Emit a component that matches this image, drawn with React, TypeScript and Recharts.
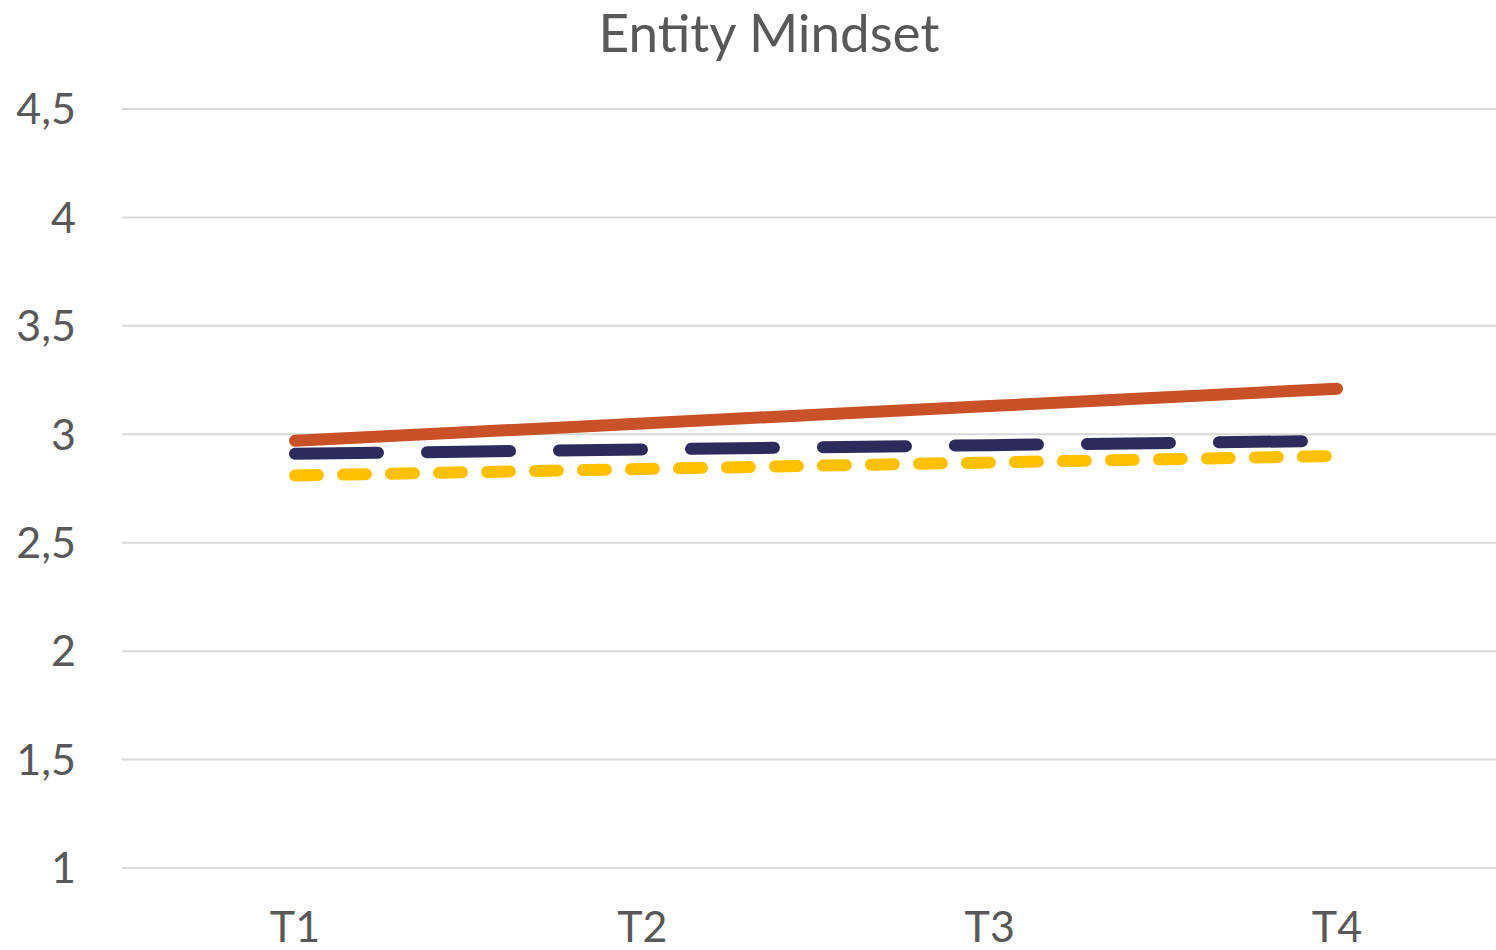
import { LineChart, Line, XAxis, YAxis, CartesianGrid } from 'recharts'

const categories = ['T1', 'T2', 'T3', 'T4']
const seriesA = [2.97, 3.05, 3.13, 3.21]
const seriesB = [2.91, 2.93, 2.95, 2.97]
const seriesC = [2.81, 2.84, 2.87, 2.90]
const yTicks = [1, 1.5, 2, 2.5, 3, 3.5, 4, 4.5]

const FONT = 'Lato, "Open Sans", sans-serif'
const TEXT = '#595959'

export default function App() {
  const data = categories.map((c, i) => ({ name: c, a: seriesA[i], b: seriesB[i], c: seriesC[i] }))
  const fmt = (v: number) => String(v).replace('.', ',')

  return (
    <div style={{ position:'absolute', left:0, top:0, width:1496, height:950, overflow:'hidden', background:'#fff', fontFamily:FONT }}>
      <div style={{ position:'absolute', left:0, width:1538, top:0, textAlign:'center', fontSize:53, color:TEXT }}>
        Entity Mindset
      </div>
      <LineChart width={1510} height={950} data={data} margin={{ top:109, right:0, bottom:0, left:0 }}>
        <CartesianGrid vertical={false} stroke="#d9d9d9" strokeWidth={2} />
        <XAxis dataKey="name" height={82} axisLine={false} tickLine={false} tickSize={0} tickMargin={43}
          padding={{ left:173, right:173 }} tick={{ fill:TEXT, fontSize:43, fontFamily:FONT }} />
        <YAxis width={122} domain={[1, 4.5]} ticks={yTicks} axisLine={false} tickLine={false} tickSize={0}
          tickMargin={46} tickFormatter={fmt} tick={{ fill:TEXT, fontSize:43, fontFamily:FONT }} />
        <Line dataKey="c" stroke="#FFC000" strokeWidth={12} strokeDasharray="23 25" strokeLinecap="round"
          dot={false} activeDot={false} isAnimationActive={false} />
        <Line dataKey="b" stroke="#2D2A5C" strokeWidth={12} strokeDasharray="83 49" strokeLinecap="round"
          dot={false} activeDot={false} isAnimationActive={false} />
        <Line dataKey="a" stroke="#C85127" strokeWidth={12} strokeLinecap="round"
          dot={false} activeDot={false} isAnimationActive={false} />
      </LineChart>
    </div>
  )
}
